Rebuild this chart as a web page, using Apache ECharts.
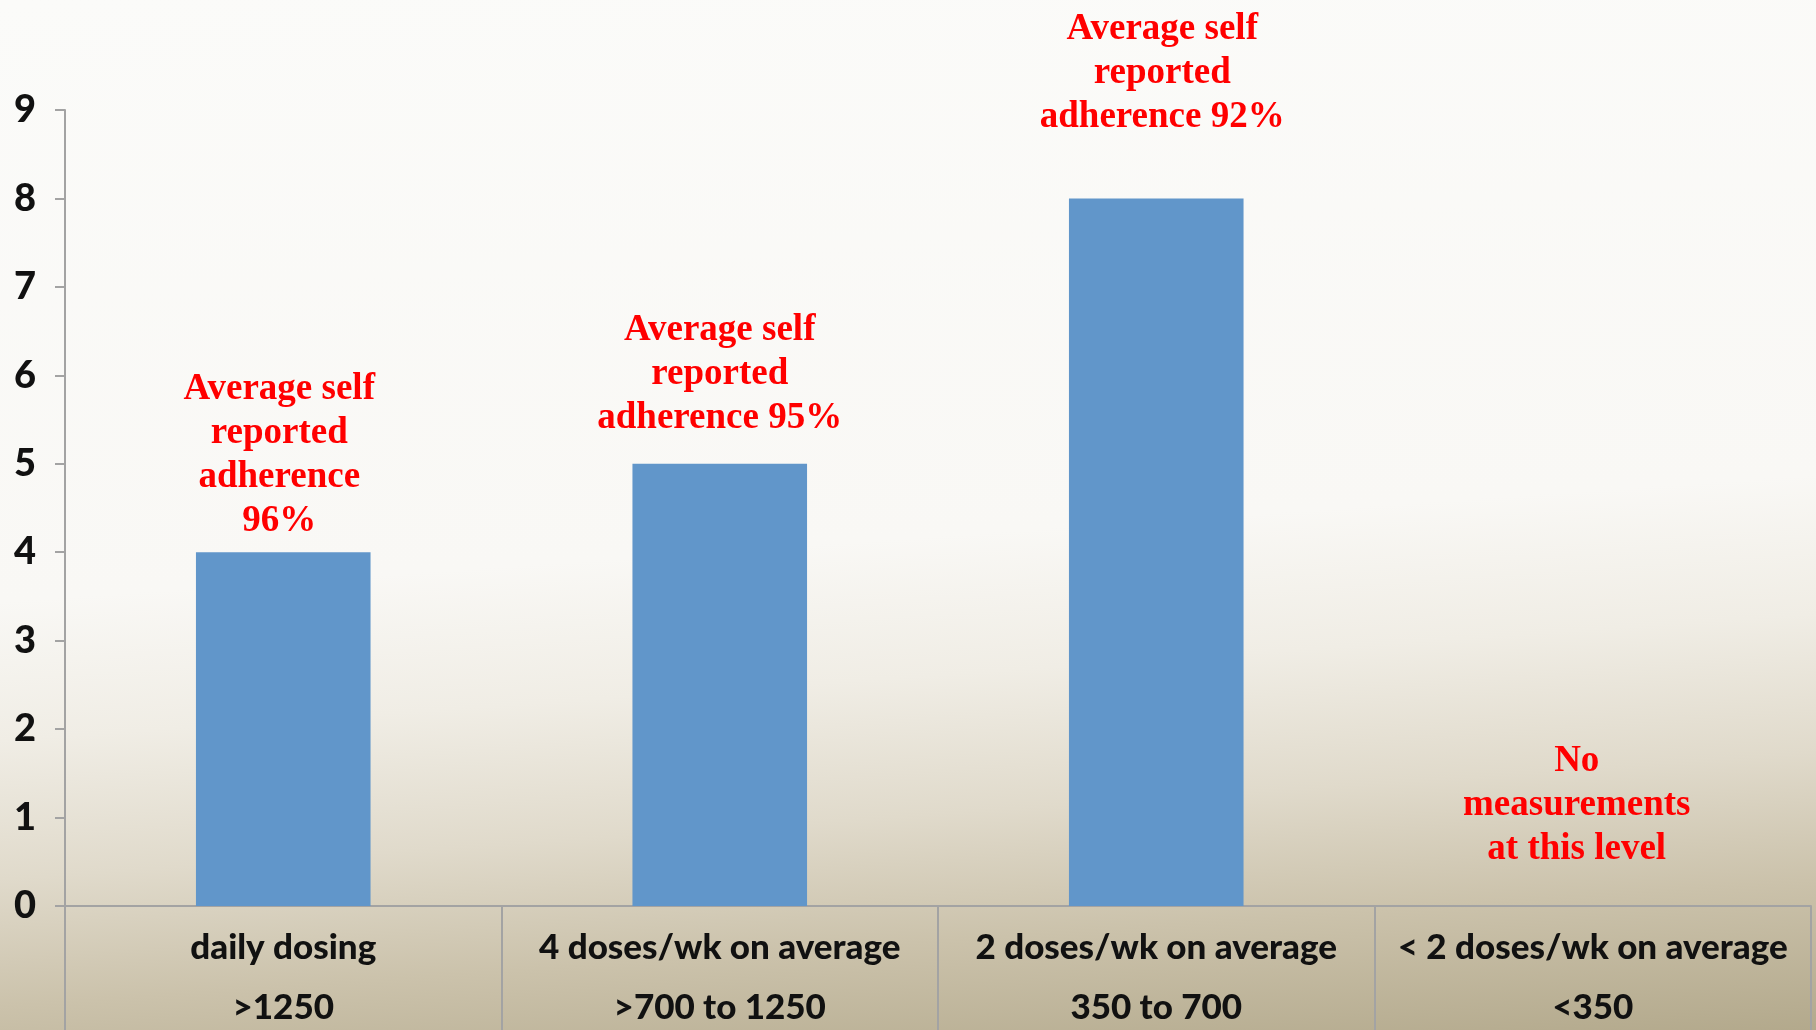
<!DOCTYPE html>
<html>
<head>
<meta charset="utf-8">
<script src="https://cdn.jsdelivr.net/npm/echarts@6/dist/echarts.min.js"></script>
<style>
  html, body { margin: 0; padding: 0; }
  #chart {
    width: 1816px;
    height: 1030px;
    background: linear-gradient(176deg, #fbfbf9 0%, #f9f8f5 52%, #f0ede5 64%, #e0dacb 76%, #cbc2ab 87%, #b3a98c 100%);
  }
</style>
</head>
<body>
<div id="chart"></div>
<script>
const categories = ["daily dosing", "4 doses/wk on average", "2 doses/wk on average", "< 2 doses/wk on average"];
const ranges = [">1250", ">700 to 1250", "350 to 700", "<350"];
const counts = [4, 5, 8, 0];
const notes = [
  "Average self\nreported\nadherence\n96%",
  "Average self\nreported\nadherence 95%",
  "Average self\nreported\nadherence 92%",
  "No\nmeasurements\nat this level",
];
const yTicks = [0, 1, 2, 3, 4, 5, 6, 7, 8, 9];

const myChart = echarts.init(document.getElementById("chart"));

// where each red note sits above its bar
const noteLayout = [
  { distance: 9, offset: [-4, 0] },
  { distance: 23, offset: [0, 0] },
  { distance: 59, offset: [6, 0] },
  { distance: 35, offset: [-16, 0] },
];

const option = {
  animation: false,
  backgroundColor: "transparent",
  grid: { left: 65, right: 5, top: 110, bottom: 124, outerBoundsMode: "none" },
  xAxis: {
    type: "category",
    data: categories,
    axisLine: { lineStyle: { color: "#a3a3a3", width: 2 } },
    axisTick: { show: true, length: 130, interval: 0, lineStyle: { color: "#a3a3a3", width: 2 } },
    axisLabel: {
      interval: 0,
      margin: 12,
      color: "#111",
      fontFamily: "Lato",
      fontWeight: 900,
      fontSize: 35,
      lineHeight: 60,
      formatter: (value, idx) => value + "\n" + ranges[idx],
    },
  },
  yAxis: {
    type: "value",
    min: yTicks[0],
    max: yTicks[yTicks.length - 1],
    interval: 1,
    splitLine: { show: false },
    axisLine: { show: true, lineStyle: { color: "#a3a3a3", width: 2 } },
    axisTick: { show: true, length: 10, lineStyle: { color: "#a3a3a3", width: 2 } },
    axisLabel: {
      margin: 29,
      color: "#111",
      fontFamily: "Lato",
      fontWeight: 900,
      fontSize: 38,
    },
  },
  series: [
    {
      type: "bar",
      barCategoryGap: "60%",
      itemStyle: { color: "#6196ca" },
      emphasis: { disabled: true },
      data: counts.map((v, i) => ({
        value: v,
        label: {
          show: true,
          position: "top",
          distance: noteLayout[i].distance,
          offset: noteLayout[i].offset,
          formatter: notes[i],
          color: "#ff0000",
          fontFamily: "Liberation Serif",
          fontWeight: "bold",
          fontSize: 37,
          lineHeight: 44,
          align: "center",
        },
      })),
    },
  ],
};

option && myChart.setOption(option);
</script>
</body>
</html>
